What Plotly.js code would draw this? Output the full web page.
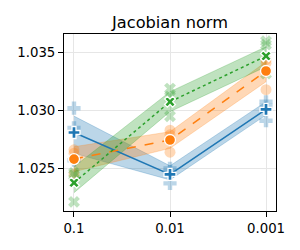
<!DOCTYPE html>
<html>
<head>
<meta charset="utf-8">
<script src="https://cdn.plot.ly/plotly-3.0.1.min.js"></script>
<style>html,body{margin:0;padding:0;background:#fff;}#chart{width:300px;height:250px;}</style>
</head>
<body>
<div id="chart"></div>
<script>
// ---- data ----
var categories = ['0.1', '0.01', '0.001'];
var titleText = 'Jacobian norm';
var yTickVals = [1.025, 1.030, 1.035];
var yTickText = ['1.025', '1.030', '1.035'];

var blueMean = [1.0281, 1.02448, 1.0301];
var blueLow  = [1.0263, 1.0240, 1.02961];
var blueHigh = [1.02952, 1.02522, 1.03076];
var bluePts  = [[1.0302, 1.0285, 1.0257], [1.0250, 1.0247, 1.0237], [1.03076, 1.03039, 1.02912]];

var orangeMean = [1.0258, 1.02745, 1.03342];
var orangeLow  = [1.02471, 1.02673, 1.03249];
var orangeHigh = [1.02687, 1.02817, 1.03422];
var orangePts  = [[1.0266, 1.0263, 1.0245], [1.0283, 1.0279, 1.0264], [1.0344, 1.0341, 1.0318]];

var greenMean = [1.02376, 1.03076, 1.03471];
var greenLow  = [1.02289, 1.0299, 1.03379];
var greenHigh = [1.02514, 1.03163, 1.03552];
var greenPts  = [[1.0246, 1.0244, 1.0221], [1.0319, 1.0312, 1.0295], [1.0360, 1.0357, 1.0332]];

// ---- styling ----
var series = [
  {mean: blueMean, low: blueLow, high: blueHigh, pts: bluePts, color: '31,119,180', symbol: 'cross', dash: 'solid', msize: 10, psize: 11},
  {mean: orangeMean, low: orangeLow, high: orangeHigh, pts: orangePts, color: '255,127,14', symbol: 'circle', dash: 'dash', msize: 11, psize: 11},
  {mean: greenMean, low: greenLow, high: greenHigh, pts: greenPts, color: '44,160,44', symbol: 'x', dash: 'dot', msize: 9.5, psize: 10.5}
];

var traces = [];
// bands
series.forEach(function (s) {
  traces.push({
    x: categories.concat(categories.slice().reverse()),
    y: s.high.concat(s.low.slice().reverse()),
    type: 'scatter', mode: 'lines', fill: 'toself',
    fillcolor: 'rgba(' + s.color + ',0.3)',
    line: {color: 'rgba(' + s.color + ',0.25)', width: 1},
    hoverinfo: 'skip', showlegend: false
  });
});
// individual faded points
series.forEach(function (s) {
  var xs = [], ys = [];
  s.pts.forEach(function (arr, i) {
    arr.forEach(function (v) { xs.push(categories[i]); ys.push(v); });
  });
  traces.push({
    x: xs, y: ys, type: 'scatter', mode: 'markers',
    marker: {symbol: s.symbol, size: s.psize, color: 'rgba(' + s.color + ',0.3)', line: {width: 0}},
    showlegend: false
  });
});
// mean lines + markers
series.forEach(function (s) {
  traces.push({
    x: categories, y: s.mean, type: 'scatter', mode: 'lines+markers',
    line: {color: 'rgb(' + s.color + ')', width: 1.5, dash: s.dash},
    marker: {symbol: s.symbol, size: s.msize, color: 'rgb(' + s.color + ')', line: {color: '#ffffff', width: 1.3}},
    showlegend: false
  });
});

var axisCommon = {
  showline: true, linecolor: '#000', linewidth: 1, mirror: true,
  ticks: 'outside', ticklen: 5, tickwidth: 1, tickcolor: '#000',
  showgrid: true, gridcolor: '#e6e6e6', gridwidth: 1, zeroline: false,
  tickfont: {family: 'DejaVu Sans', size: 13.3, color: '#000'}
};

var layout = {
  width: 300, height: 250,
  margin: {l: 64, r: 24, t: 34, b: 39},
  paper_bgcolor: '#fff', plot_bgcolor: '#fff',
  showlegend: false,
  title: {text: titleText, font: {family: 'DejaVu Sans', size: 16.2, color: '#000'},
          x: 0.5, xref: 'paper', y: 1 - 22 / 250, yref: 'container', yanchor: 'middle'},
  xaxis: Object.assign({}, axisCommon, {
    type: 'category', categoryorder: 'array', categoryarray: categories,
    range: [-0.104, 2.104]
  }),
  yaxis: Object.assign({}, axisCommon, {
    range: [1.02131, 1.03662], tickvals: yTickVals, ticktext: yTickText
  })
};

Plotly.newPlot('chart', traces, layout, {staticPlot: true, displayModeBar: false});
</script>
</body>
</html>
